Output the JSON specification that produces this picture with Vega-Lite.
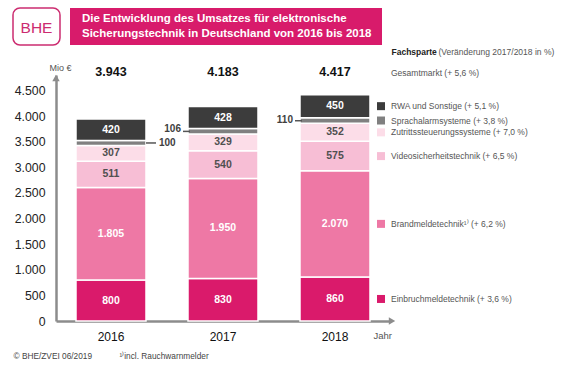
{
  "$schema": "https://vega.github.io/schema/vega-lite/v6.json",
  "background": "white",
  "padding": {"left": 12, "top": 7, "right": 4, "bottom": 2},
  "config": {
    "font": "Liberation Sans",
    "view": {"stroke": null},
    "axisY": {"labelOverlap": false, "tickCount": 10},
    "locale": {"number": {"decimal": ",", "thousands": ".", "grouping": [3], "currency": ["", " €"]}}
  },
  "datasets": {
    "main": [
      {"year": "2016", "cat": "Einbruchmeldetechnik", "o": 1, "v": 800, "leg": "Einbruchmeldetechnik (+ 3,6 %)"},
      {"year": "2016", "cat": "Brandmeldetechnik", "o": 2, "v": 1805, "leg": "Brandmeldetechnik¹⁾  (+ 6,2 %)"},
      {"year": "2016", "cat": "Videosicherheitstechnik", "o": 3, "v": 511, "leg": "Videosicherheitstechnik (+ 6,5 %)"},
      {"year": "2016", "cat": "Zutrittssteuerungssysteme", "o": 4, "v": 307, "leg": "Zutrittssteuerungssysteme (+ 7,0 %)"},
      {"year": "2016", "cat": "Sprachalarmsysteme", "o": 5, "v": 100, "leg": "Sprachalarmsysteme (+ 3,8 %)"},
      {"year": "2016", "cat": "RWA und Sonstige", "o": 6, "v": 420, "leg": "RWA und Sonstige (+ 5,1 %)"},
      {"year": "2017", "cat": "Einbruchmeldetechnik", "o": 1, "v": 830, "leg": "Einbruchmeldetechnik (+ 3,6 %)"},
      {"year": "2017", "cat": "Brandmeldetechnik", "o": 2, "v": 1950, "leg": "Brandmeldetechnik¹⁾  (+ 6,2 %)"},
      {"year": "2017", "cat": "Videosicherheitstechnik", "o": 3, "v": 540, "leg": "Videosicherheitstechnik (+ 6,5 %)"},
      {"year": "2017", "cat": "Zutrittssteuerungssysteme", "o": 4, "v": 329, "leg": "Zutrittssteuerungssysteme (+ 7,0 %)"},
      {"year": "2017", "cat": "Sprachalarmsysteme", "o": 5, "v": 106, "leg": "Sprachalarmsysteme (+ 3,8 %)"},
      {"year": "2017", "cat": "RWA und Sonstige", "o": 6, "v": 428, "leg": "RWA und Sonstige (+ 5,1 %)"},
      {"year": "2018", "cat": "Einbruchmeldetechnik", "o": 1, "v": 860, "leg": "Einbruchmeldetechnik (+ 3,6 %)"},
      {"year": "2018", "cat": "Brandmeldetechnik", "o": 2, "v": 2070, "leg": "Brandmeldetechnik¹⁾  (+ 6,2 %)"},
      {"year": "2018", "cat": "Videosicherheitstechnik", "o": 3, "v": 575, "leg": "Videosicherheitstechnik (+ 6,5 %)"},
      {"year": "2018", "cat": "Zutrittssteuerungssysteme", "o": 4, "v": 352, "leg": "Zutrittssteuerungssysteme (+ 7,0 %)"},
      {"year": "2018", "cat": "Sprachalarmsysteme", "o": 5, "v": 110, "leg": "Sprachalarmsysteme (+ 3,8 %)"},
      {"year": "2018", "cat": "RWA und Sonstige", "o": 6, "v": 450, "leg": "RWA und Sonstige (+ 5,1 %)"}
    ]
  },
  "columns": 1,
  "spacing": 7,
  "concat": [
    {
      "spacing": 9,
      "hconcat": [
        {
          "width": 47, "height": 37,
          "view": {"stroke": "#CC2C70", "strokeWidth": 1.5, "cornerRadius": 7},
          "data": {"values": [{"t": "BHE"}]},
          "mark": {"type": "text", "fontSize": 15.5, "color": "#CC2C70", "baseline": "middle", "align": "center", "dy": 1},
          "encoding": {"text": {"field": "t", "type": "nominal"}}
        },
        {
          "width": 312, "height": 37,
          "view": {"fill": "#D81B6B", "stroke": null},
          "data": {"values": [{}]},
          "mark": {"type": "text", "align": "left", "baseline": "middle", "dx": -144, "dy": -8, "fontSize": 11.5, "fontWeight": "bold", "color": "white", "lineHeight": 15.5},
          "encoding": {"text": {"value": ["Die Entwicklung des Umsatzes für elektronische", "Sicherungstechnik in Deutschland von 2016 bis 2018"]}}
        },
        {
          "width": 1, "height": 37,
          "data": {"values": [{}]},
          "layer": [
            {"mark": {"type": "text", "align": "left", "baseline": "middle", "dy": 25, "fontSize": 8.5, "fontWeight": "bold", "color": "#222222"}, "encoding": {"text": {"value": "Fachsparte"}}},
            {"mark": {"type": "text", "align": "left", "baseline": "middle", "dx": 47, "dy": 25, "fontSize": 8.5, "color": "#555555"}, "encoding": {"text": {"value": "(Veränderung 2017/2018 in %)"}}}
          ]
        }
      ]
    },
    {
      "width": 377, "height": 246,
      "data": {"name": "main"},
      "resolve": {"scale": {"x": "independent"}},
      "layer": [
        {
          "layer": [
            {
              "mark": {"type": "bar", "stroke": "white", "strokeWidth": 1.5},
              "encoding": {
                "x": {"field": "year", "type": "nominal", "scale": {"paddingInner": 0.375, "paddingOuter": 0.3705, "align": 0.759},
                  "axis": {"title": "Jahr", "domain": false, "labelAngle": 0, "labelFontSize": 12, "labelColor": "#111111", "labelPadding": 10, "ticks": false, "tickSize": 0, "titleFontSize": 9.5, "titleFontWeight": "normal", "titleColor": "#555555", "titleX": 360, "titleY": 14, "titleAlign": "left", "titleBaseline": "middle"}},
                "y": {"field": "v", "type": "quantitative", "stack": "zero", "scale": {"domain": [0, 4800], "nice": false, "zero": true},
                  "axis": {"title": "Mio €", "offset": -43, "values": [0, 500, 1000, 1500, 2000, 2500, 3000, 3500, 4000, 4500], "tickCount": 10, "format": ",d", "labelOverlap": false, "labelFontSize": 12.3, "labelColor": "#222222", "labelPadding": 11, "ticks": false, "tickSize": 0, "grid": false, "domainColor": "#8c8c8c", "domainWidth": 2.5, "titleAngle": 0, "titleX": 4, "titleY": -8, "titleAlign": "center", "titleBaseline": "middle", "titleFontSize": 9, "titleFontWeight": "normal", "titleColor": "#555555"}},
                "color": {"field": "cat", "type": "nominal", "legend": null,
                  "scale": {"domain": ["Einbruchmeldetechnik", "Brandmeldetechnik", "Videosicherheitstechnik", "Zutrittssteuerungssysteme", "Sprachalarmsysteme", "RWA und Sonstige"],
                    "range": ["#DA1A6B", "#EE78A5", "#F7BED5", "#FCDDE8", "#808080", "#3C3C3C"]}},
                "order": {"field": "o", "type": "quantitative"}
              }
            },
            {
              "mark": {"type": "text", "fontSize": 10.5, "fontWeight": "bold", "baseline": "middle"},
              "encoding": {
                "x": {"field": "year", "type": "nominal"},
                "y": {"field": "v", "type": "quantitative", "stack": "zero", "bandPosition": 0.5},
                "detail": {"field": "cat", "type": "nominal"},
                "order": {"field": "o", "type": "quantitative"},
                "text": {"condition": {"test": "datum.cat === 'Sprachalarmsysteme'", "value": ""}, "field": "v", "type": "quantitative", "format": ",d"},
                "color": {"condition": {"test": "datum.cat === 'Videosicherheitstechnik' || datum.cat === 'Zutrittssteuerungssysteme'", "value": "#505050"}, "value": "#ffffff"}
              }
            },
            {
              "transform": [{"aggregate": [{"op": "sum", "field": "v", "as": "tot"}], "groupby": ["year"]}],
              "mark": {"type": "text", "fontSize": 12.5, "fontWeight": "bold", "baseline": "middle", "dy": -3, "color": "#111111"},
              "encoding": {
                "x": {"field": "year", "type": "nominal"},
                "y": {"datum": 4800, "type": "quantitative"},
                "text": {"field": "tot", "type": "quantitative", "format": ",d"}
              }
            },
            {
              "transform": [{"stack": "v", "groupby": ["year"], "sort": [{"field": "o", "order": "ascending"}], "as": ["v0", "v1"]}, {"filter": "datum.cat === 'Sprachalarmsysteme' && datum.year === '2016'"}],
              "mark": {"type": "text", "align": "left", "baseline": "middle", "dx": 48, "dy": -2.6, "fontSize": 10, "fontWeight": "bold", "color": "#404040"},
              "encoding": {
                "x": {"field": "year", "type": "nominal"},
                "y": {"field": "v0", "type": "quantitative"},
                "text": {"field": "v", "type": "quantitative", "format": ",d"}
              }
            },
            {
              "transform": [{"stack": "v", "groupby": ["year"], "sort": [{"field": "o", "order": "ascending"}], "as": ["v0", "v1"]}, {"filter": "datum.cat === 'Sprachalarmsysteme' && datum.year === '2017'"}],
              "mark": {"type": "text", "align": "right", "baseline": "middle", "dx": -42, "dy": -5, "fontSize": 10, "fontWeight": "bold", "color": "#404040"},
              "encoding": {
                "x": {"field": "year", "type": "nominal"},
                "y": {"field": "v0", "type": "quantitative"},
                "text": {"field": "v", "type": "quantitative", "format": ",d"}
              }
            },
            {
              "transform": [{"stack": "v", "groupby": ["year"], "sort": [{"field": "o", "order": "ascending"}], "as": ["v0", "v1"]}, {"filter": "datum.cat === 'Sprachalarmsysteme' && datum.year === '2018'"}],
              "mark": {"type": "text", "align": "right", "baseline": "middle", "dx": -42, "dy": -3, "fontSize": 10, "fontWeight": "bold", "color": "#404040"},
              "encoding": {
                "x": {"field": "year", "type": "nominal"},
                "y": {"field": "v0", "type": "quantitative"},
                "text": {"field": "v", "type": "quantitative", "format": ",d"}
              }
            },
            {
              "transform": [{"stack": "v", "groupby": ["year"], "sort": [{"field": "o", "order": "ascending"}], "as": ["v0", "v1"]}, {"filter": "datum.cat === 'Sprachalarmsysteme' && datum.year === '2016'"}],
              "mark": {"type": "tick", "orient": "horizontal", "size": 10, "thickness": 1.5, "xOffset": 40, "yOffset": -2.6, "color": "#555555", "opacity": 1},
              "encoding": {
                "x": {"field": "year", "type": "nominal"},
                "y": {"field": "v0", "type": "quantitative"}
              }
            },
            {
              "transform": [{"stack": "v", "groupby": ["year"], "sort": [{"field": "o", "order": "ascending"}], "as": ["v0", "v1"]}, {"filter": "datum.cat === 'Sprachalarmsysteme' && datum.year !== '2016'"}],
              "mark": {"type": "tick", "orient": "horizontal", "size": 7, "thickness": 1.5, "xOffset": -36.5, "yOffset": -2.6, "color": "#555555", "opacity": 1},
              "encoding": {
                "x": {"field": "year", "type": "nominal"},
                "y": {"field": "v0", "type": "quantitative"}
              }
            },
            {
              "transform": [{"filter": "datum.year === '2018'"}],
              "mark": {"type": "point", "shape": "square", "filled": true, "size": 64, "opacity": 1, "xOffset": 46},
              "encoding": {
                "x": {"field": "year", "type": "nominal"},
                "y": {"field": "v", "type": "quantitative", "stack": "zero", "bandPosition": 0.5},
                "order": {"field": "o", "type": "quantitative"},
                "color": {"field": "cat", "type": "nominal", "legend": null}
              }
            },
            {
              "transform": [{"filter": "datum.year === '2018'"}],
              "mark": {"type": "text", "align": "left", "baseline": "middle", "dx": 56, "fontSize": 8.5, "color": "#555555"},
              "encoding": {
                "x": {"field": "year", "type": "nominal"},
                "y": {"field": "v", "type": "quantitative", "stack": "zero", "bandPosition": 0.5},
                "detail": {"field": "cat", "type": "nominal"},
                "order": {"field": "o", "type": "quantitative"},
                "text": {"field": "leg", "type": "nominal"}
              }
            },
            {
              "data": {"values": [{"t": "Gesamtmarkt (+ 5,6 %)"}]},
              "mark": {"type": "text", "align": "left", "baseline": "middle", "dx": 56, "dy": -2, "fontSize": 8.5, "color": "#555555"},
              "encoding": {
                "x": {"datum": "2018", "type": "nominal"},
                "y": {"datum": 4800, "type": "quantitative"},
                "text": {"field": "t", "type": "nominal"}
              }
            }
          ]
        },
        {
          "data": {"values": [{}]},
          "layer": [
            {
              "mark": {"type": "point", "shape": "triangle-up", "filled": true, "size": 55, "opacity": 1, "color": "#8c8c8c", "yOffset": 3},
              "encoding": {
                "x": {"datum": 0, "type": "quantitative", "scale": {"domain": [0, 1], "range": [43, 377], "nice": false, "zero": false},
                  "axis": {"orient": "bottom", "labels": false, "ticks": false, "grid": false, "title": null, "domain": true, "domainColor": "#8c8c8c", "domainWidth": 2.5}},
                "y": {"datum": 4800, "type": "quantitative"}
              }
            },
            {
              "mark": {"type": "point", "shape": "triangle-right", "filled": true, "size": 55, "opacity": 1, "color": "#8c8c8c", "xOffset": 2},
              "encoding": {
                "x": {"datum": 1, "type": "quantitative", "scale": {"domain": [0, 1], "range": [43, 377], "nice": false, "zero": false},
                  "axis": {"orient": "bottom", "labels": false, "ticks": false, "grid": false, "title": null, "domain": true, "domainColor": "#8c8c8c", "domainWidth": 2.5}},
                "y": {"datum": 0, "type": "quantitative"}
              }
            }
          ]
        }
      ]
    },
    {
      "width": 1, "height": 16,
      "data": {"values": [{}]},
      "layer": [
        {"mark": {"type": "text", "align": "left", "baseline": "middle", "fontSize": 8.3, "color": "#444444"}, "encoding": {"text": {"value": "© BHE/ZVEI 06/2019"}}},
        {"mark": {"type": "text", "align": "left", "baseline": "middle", "dx": 106, "fontSize": 8.3, "color": "#444444"}, "encoding": {"text": {"value": "¹⁾incl. Rauchwarnmelder"}}}
      ]
    }
  ]
}
